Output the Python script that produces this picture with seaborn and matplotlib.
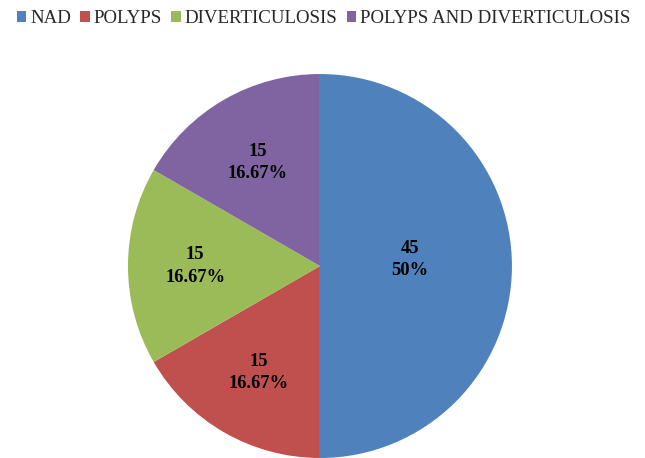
import matplotlib
matplotlib.use("Agg")
import matplotlib.pyplot as plt
import seaborn as sns
import numpy as np
from matplotlib.patches import Patch

categories = ["NAD", "POLYPS", "DIVERTICULOSIS", "POLYPS AND DIVERTICULOSIS"]
counts = [45, 15, 15, 15]
percent_labels = ["50%", "16.67%", "16.67%", "16.67%"]
colors = ["#4F81BD", "#C0504D", "#9BBB59", "#8064A2"]

sns.set_theme(style="white")
plt.rcParams["font.family"] = ["Liberation Serif", "DejaVu Serif"]

fig = plt.figure(figsize=(6.45, 4.58), dpi=100)
ax = fig.add_axes([0.1984, 0.0, 0.5953, 0.8384])

wedges, _ = ax.pie(counts, colors=colors, startangle=90, counterclock=False,
                   radius=1.0, wedgeprops=dict(linewidth=0))
ax.set_xlim(-1, 1)
ax.set_ylim(-1, 1)
ax.set_aspect("equal")
ax.axis("off")

# data labels, placed like Excel's "best fit" (distance, angle nudge)
total = sum(counts)
start = 90.0
dists = [0.47, 0.64, 0.65, 0.63]
nudge = [4, 0, 0, 1]
for n, (c, p) in enumerate(zip(counts, percent_labels)):
    span = 360.0 * c / total
    mid = np.deg2rad(start - span / 2 + nudge[n])
    start -= span
    ax.text(dists[n] * np.cos(mid), dists[n] * np.sin(mid), f"{c}\n{p}",
            ha="center", va="center", fontsize=13.3, fontweight="bold",
            linespacing=1.4, color="black")

handles = [Patch(facecolor=col, edgecolor="none") for col in colors]
fig.legend(handles, categories, loc="upper left", bbox_to_anchor=(0.0175, 0.990),
           ncol=4, frameon=False, fontsize=13.6, handlelength=0.5, handleheight=0.5,
           handletextpad=0.2, columnspacing=0.5, borderaxespad=0.0, borderpad=0.3)

fig.savefig("out.png", dpi=100)
